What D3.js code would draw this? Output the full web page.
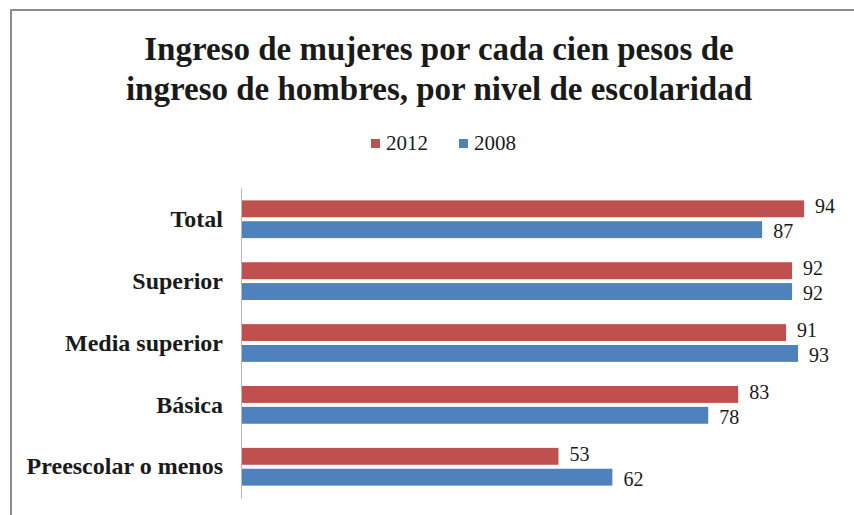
<!DOCTYPE html>
<html>
<head>
<meta charset="utf-8">
<script src="https://cdn.jsdelivr.net/npm/d3@7"></script>
<style>
  body { margin: 0; background: #fff; }
  text { font-family: "Liberation Serif", "Times New Roman", Times, "DejaVu Serif", serif; }
</style>
</head>
<body>
<div id="chart"></div>
<script>
// Data
const categories = ["Total", "Superior", "Media superior", "Básica", "Preescolar o menos"];
const series = ["2012", "2008"];
const values2012 = [94, 92, 91, 83, 53];
const values2008 = [87, 92, 93, 78, 62];
const titleLines = ["Ingreso de mujeres por cada cien pesos de", "ingreso de hombres, por nivel de escolaridad"];

const width = 854, height = 515;
const margin = { top: 188, right: 15, bottom: 17, left: 241 };

const svg = d3.select("#chart")
  .append("svg")
  .attr("width", width)
  .attr("height", height);

// Frame (only left and top edges visible in the picture)
svg.append("path")
  .attr("d", `M11,${height} V10 H${width}`)
  .attr("fill", "none")
  .attr("stroke", "#8c8c8c")
  .attr("stroke-width", 2);

// Title
svg.append("g").selectAll("text")
  .data(titleLines)
  .join("text")
  .attr("x", 439)
  .attr("y", (d, i) => 60 + i * 40)
  .attr("text-anchor", "middle")
  .attr("font-weight", "bold")
  .attr("font-size", 33)
  .attr("fill", "#1a1a1a")
  .text(d => d);

// Scales
const x = d3.scaleLinear()
  .domain([0, 100])
  .range([margin.left, margin.left + 599]);

const y0 = d3.scaleBand()
  .domain(categories)
  .range([margin.top, height - margin.bottom])
  .paddingInner(0.39)
  .paddingOuter(0.2);

const y1 = d3.scaleBand()
  .domain(series)
  .range([0, y0.bandwidth()])
  .paddingInner(0.19);

const color = d3.scaleOrdinal()
  .domain(series)
  .range(["#c0504d", "#4f81bd"]);

const rows = categories.map((c, i) => ({
  category: c,
  bars: [
    { key: "2012", value: values2012[i] },
    { key: "2008", value: values2008[i] }
  ]
}));

// Category axis
const yAxis = svg.append("g")
  .attr("transform", `translate(${margin.left},0)`)
  .call(d3.axisLeft(y0).tickSize(0).tickPadding(18));
yAxis.select(".domain").attr("stroke", "#b8b8b8");
yAxis.selectAll("text")
  .attr("font-size", 24)
  .attr("font-weight", "bold")
  .attr("fill", "#1a1a1a");

// Bars
const groups = svg.append("g").selectAll("g")
  .data(rows)
  .join("g")
  .attr("transform", d => `translate(0,${y0(d.category)})`);

groups.selectAll("rect")
  .data(d => d.bars)
  .join("rect")
  .attr("x", x(0) + 1)
  .attr("y", d => y1(d.key))
  .attr("width", d => x(d.value) - x(0) - 1)
  .attr("height", y1.bandwidth())
  .attr("fill", d => color(d.key));

// value labels, nudged apart a little so the pairs don't collide
groups.selectAll("text.val")
  .data(d => d.bars)
  .join("text")
  .attr("class", "val")
  .attr("x", d => x(d.value) + 11)
  .attr("y", d => y1(d.key) + y1.bandwidth() / 2 + (d.key === "2012" ? -2 : 2))
  .attr("dy", "0.33em")
  .attr("font-size", 20)
  .attr("fill", "#1a1a1a")
  .text(d => d.value);

// Legend
const legend = svg.append("g").attr("transform", "translate(371,143)");
const item = legend.selectAll("g")
  .data(series)
  .join("g")
  .attr("transform", (d, i) => `translate(${i * 88},0)`);
item.append("rect")
  .attr("x", 0)
  .attr("y", -4)
  .attr("width", 9)
  .attr("height", 9)
  .attr("fill", d => color(d));
item.append("text")
  .attr("x", 15)
  .attr("y", 0)
  .attr("dy", "0.35em")
  .attr("font-size", 21)
  .attr("fill", "#1a1a1a")
  .text(d => d);
</script>
</body>
</html>
